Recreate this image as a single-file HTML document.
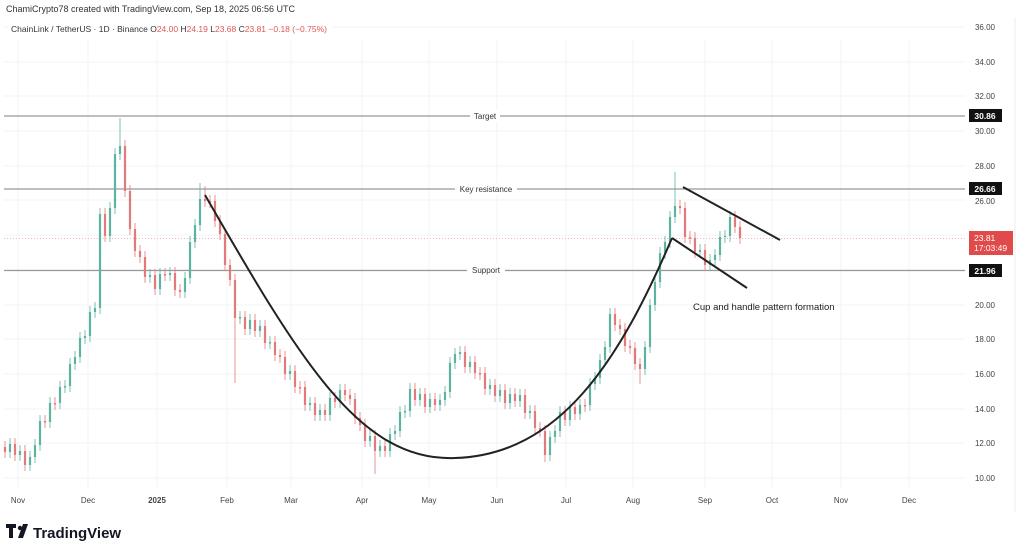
<!DOCTYPE html>
<html><head><meta charset="utf-8"><style>
body{margin:0;background:#fff;font-family:"Liberation Sans",sans-serif;}
svg text{font-family:"Liberation Sans",sans-serif;}
</style></head><body>
<svg width="1024" height="554" viewBox="0 0 1024 554" xmlns="http://www.w3.org/2000/svg">
<rect width="1024" height="554" fill="#fff"/>
<g stroke="#f1f3f6" stroke-width="1">
<path d="M18 40V488M88 40V488M157 40V488M227 40V488M291 40V488M362 40V488M429 40V488M497 40V488M566 40V488M633 40V488M705 40V488M772 40V488M841 40V488M909 40V488"/>
<path d="M4 27H965M4 62H965M4 96H965M4 131H965M4 166H965M4 200H965M4 235H965M4 270H965M4 305H965M4 339H965M4 374H965M4 409H965M4 443H965M4 478H965"/>
</g>
<rect x="8" y="22" width="325" height="13" fill="#fff"/>
<text x="6" y="12" font-size="9" fill="#333">ChamiCrypto78 created with TradingView.com, Sep 18, 2025 06:56 UTC</text>
<text x="11" y="32" font-size="8.5" fill="#333">ChainLink / TetherUS · 1D · Binance  O<tspan fill="#e05858">24.00</tspan>  H<tspan fill="#e05858">24.19</tspan>  L<tspan fill="#e05858">23.68</tspan>  C<tspan fill="#e05858">23.81  −0.18 (−0.75%)</tspan></text>
<line x1="1015" y1="18" x2="1015" y2="512" stroke="#eee"/>
<line x1="4" y1="116" x2="965" y2="116" stroke="#999" stroke-width="1.2"/>
<line x1="4" y1="189" x2="965" y2="189" stroke="#999" stroke-width="1.2"/>
<line x1="4" y1="270.5" x2="965" y2="270.5" stroke="#999" stroke-width="1.2"/>
<line x1="4" y1="238.5" x2="965" y2="238.5" stroke="#e8a0a0" stroke-width="0.8" stroke-dasharray="1,2"/>
<g fill="none">
<path stroke="#5db39f" stroke-width="0.8" d="M10 438V458M20 445V461M30 451V471M35 439V463M40 415V451M50 397V428M60 381V409M65 380V393M70 358V392M75 351V370M80 332V363M85 330V344M90 306V342M95 302V318M100 208V314M110 202V242M115 148V214M120 118V160M150 269V283M160 268V295M170 267V281M185 272V298M190 236V284M195 219V248M200 183V231M240 311V324M250 314V335M260 320V337M270 336V349M290 365V380M310 397V411M320 404V421M330 392V421M340 384V408M370 430V447M380 440V457M390 428V457M395 425V440M400 406V437M405 405V418M410 383V417M420 388V406M430 393V413M440 394V411M445 386V406M450 357V398M455 348V369M460 346V360M470 356V373M490 379V395M500 384V402M510 388V409M520 389V407M530 405V419M550 431V461M555 425V443M560 406V437M570 401V426M580 399V420M590 378V411M595 372V390M600 354V384M605 341V366M610 308V353M645 341V375M650 299V353M655 276V311M660 247V288M665 236V259M670 211V248M675 172V223M700 244V258M710 254V271M715 249V266M720 231V261M725 230V243M730 211V242"/>
<path stroke="#5db39f" stroke-width="2.2" d="M10 444V452M20 451V455M30 457V465M35 445V457M40 421V445M50 403V422M60 387V403M65 386V387.5M70 364V386M75 357V364M80 338V357M85 336V338M90 312V336M95 308V312M100 214V308M110 208V236M115 154V208M120 146V154M150 275V277M160 274V289M170 273V275M185 278V292M190 242V278M195 225V242M200 199V225M240 317V318.5M250 320V329M260 326V331M270 342V343.5M290 371V374M310 403V405M320 410V415M330 398V415M340 390V402M370 436V441M380 446V451M390 434V451M395 431V434M400 412V431M405 411V412.5M410 389V411M420 394V400M430 399V407M440 400V405M445 392V400M450 363V392M455 354V363M460 352V354M470 362V367M490 385V389M500 390V396M510 394V403M520 395V401M530 411V413M550 437V455M555 431V437M560 412V431M570 407V420M580 405V414M590 384V405M595 378V384M600 360V378M605 347V360M610 314V347M645 347V369M650 305V347M655 282V305M660 253V282M665 242V253M670 217V242M675 206V217M700 250V252M710 260V265M715 255V260M720 237V255M725 236V237M730 217V236"/>
<path stroke="#e27a7c" stroke-width="0.8" d="M5 441V458M15 438V461M25 445V471M45 415V428M55 397V410M105 208V242M125 140V197M130 185V235M135 223V257M140 245V263M145 251V283M155 269V295M165 268V281M175 267V296M180 284V298M205 186V207M210 195V208M215 195V227M220 215V240M225 228V271M230 259V286M235 274V383M245 311V335M255 314V337M265 320V349M275 336V361M280 349V363M285 351V380M295 365V393M300 381V394M305 381V411M315 397V421M325 404V421M335 392V408M345 384V401M350 389V405M355 393V424M360 412V431M365 419V447M375 430V474M385 440V457M415 383V406M425 388V413M435 393V411M465 346V373M475 356V379M480 367V380M485 367V395M495 379V402M505 384V409M515 388V407M525 389V419M535 405V434M540 422V437M545 425V462M565 406V426M575 401V420M585 399V412M615 308V331M620 319V335M625 323V352M630 340V354M635 342V370M640 358V384M680 200V214M685 202V243M690 231V244M695 232V258M705 244V271M735 211V233M740 221V244"/>
<path stroke="#e27a7c" stroke-width="2.2" d="M5 447V452M15 444V455M25 451V465M45 421V422.5M55 403V404.5M105 214V236M125 146V191M130 191V229M135 229V251M140 251V257M145 257V277M155 275V289M165 274V275.5M175 273V290M180 290V292M205 199V201M210 201V202.5M215 201V221M220 221V234M225 234V265M230 265V280M235 280V318M245 317V329M255 320V331M265 326V343M275 342V355M280 355V357M285 357V374M295 371V387M300 387V388.5M305 387V405M315 403V415M325 410V415M335 398V402M345 390V395M350 395V399M355 399V418M360 418V425M365 425V441M375 436V451M385 446V451M415 389V400M425 394V407M435 399V405M465 352V367M475 362V373M480 373V374.5M485 373V389M495 385V396M505 390V403M515 394V401M525 395V413M535 411V428M540 428V431M545 431V455M565 412V420M575 407V414M585 405V406.5M615 314V325M620 325V329M625 329V346M630 346V348M635 348V364M640 364V369M680 206V208M685 208V237M690 237V238.5M695 238V252M705 250V265M735 217V227M740 227V238"/>
</g>
<path d="M205,195 C300,360 360,462 455,458 C560,455 620,360 672,238" fill="none" stroke="#222" stroke-width="2"/>
<line x1="672" y1="238" x2="747" y2="288" stroke="#222" stroke-width="2"/>
<line x1="683" y1="187" x2="780" y2="240" stroke="#222" stroke-width="2"/>
<rect x="470" y="110" width="30" height="12" fill="#fff"/><text x="485" y="119" font-size="8" fill="#333" text-anchor="middle">Target</text>
<rect x="455" y="183" width="62" height="12" fill="#fff"/><text x="486" y="192" font-size="8" fill="#333" text-anchor="middle">Key resistance</text>
<rect x="467" y="264" width="38" height="12" fill="#fff"/><text x="486" y="273" font-size="8" fill="#333" text-anchor="middle">Support</text>
<text x="693" y="310" font-size="9.5" fill="#222">Cup and handle pattern formation</text>
<g font-size="8" fill="#444" text-anchor="middle">
<text x="985" y="30">36.00</text><text x="985" y="65">34.00</text><text x="985" y="99">32.00</text><text x="985" y="134">30.00</text><text x="985" y="169">28.00</text><text x="985" y="204">26.00</text><text x="985" y="308">20.00</text><text x="985" y="342">18.00</text><text x="985" y="377">16.00</text><text x="985" y="412">14.00</text><text x="985" y="446">12.00</text><text x="985" y="481">10.00</text>
</g>
<rect x="969" y="109" width="33" height="13" fill="#111"/><text x="985" y="119" font-size="8.5" fill="#fff" text-anchor="middle" font-weight="bold">30.86</text>
<rect x="969" y="182" width="33" height="13" fill="#111"/><text x="985" y="192" font-size="8.5" fill="#fff" text-anchor="middle" font-weight="bold">26.66</text>
<rect x="969" y="264" width="33" height="13" fill="#111"/><text x="985" y="274" font-size="8.5" fill="#fff" text-anchor="middle" font-weight="bold">21.96</text>
<rect x="969" y="231" width="44" height="24" fill="#e04a4a"/><text x="974" y="241" font-size="8.5" fill="#fff">23.81</text><text x="974" y="251" font-size="8.5" fill="#fff">17:03:49</text>
<g font-size="8" fill="#444" text-anchor="middle">
<text x="18" y="503">Nov</text><text x="88" y="503">Dec</text><text x="157" y="503" font-weight="bold">2025</text><text x="227" y="503">Feb</text><text x="291" y="503">Mar</text><text x="362" y="503">Apr</text><text x="429" y="503">May</text><text x="497" y="503">Jun</text><text x="566" y="503">Jul</text><text x="633" y="503">Aug</text><text x="705" y="503">Sep</text><text x="772" y="503">Oct</text><text x="841" y="503">Nov</text><text x="909" y="503">Dec</text>
</g>
<g transform="translate(6,524)"><path d="M0 0h10v4h-3v10h-4v-10h-3z" fill="#131722"/><circle cx="14" cy="4" r="2.2" fill="#131722"/><path d="M17 0h5l-5 14h-5z" fill="#131722"/></g>
<text x="33" y="538" font-size="15" font-weight="bold" fill="#131722">TradingView</text>
</svg>
</body></html>
